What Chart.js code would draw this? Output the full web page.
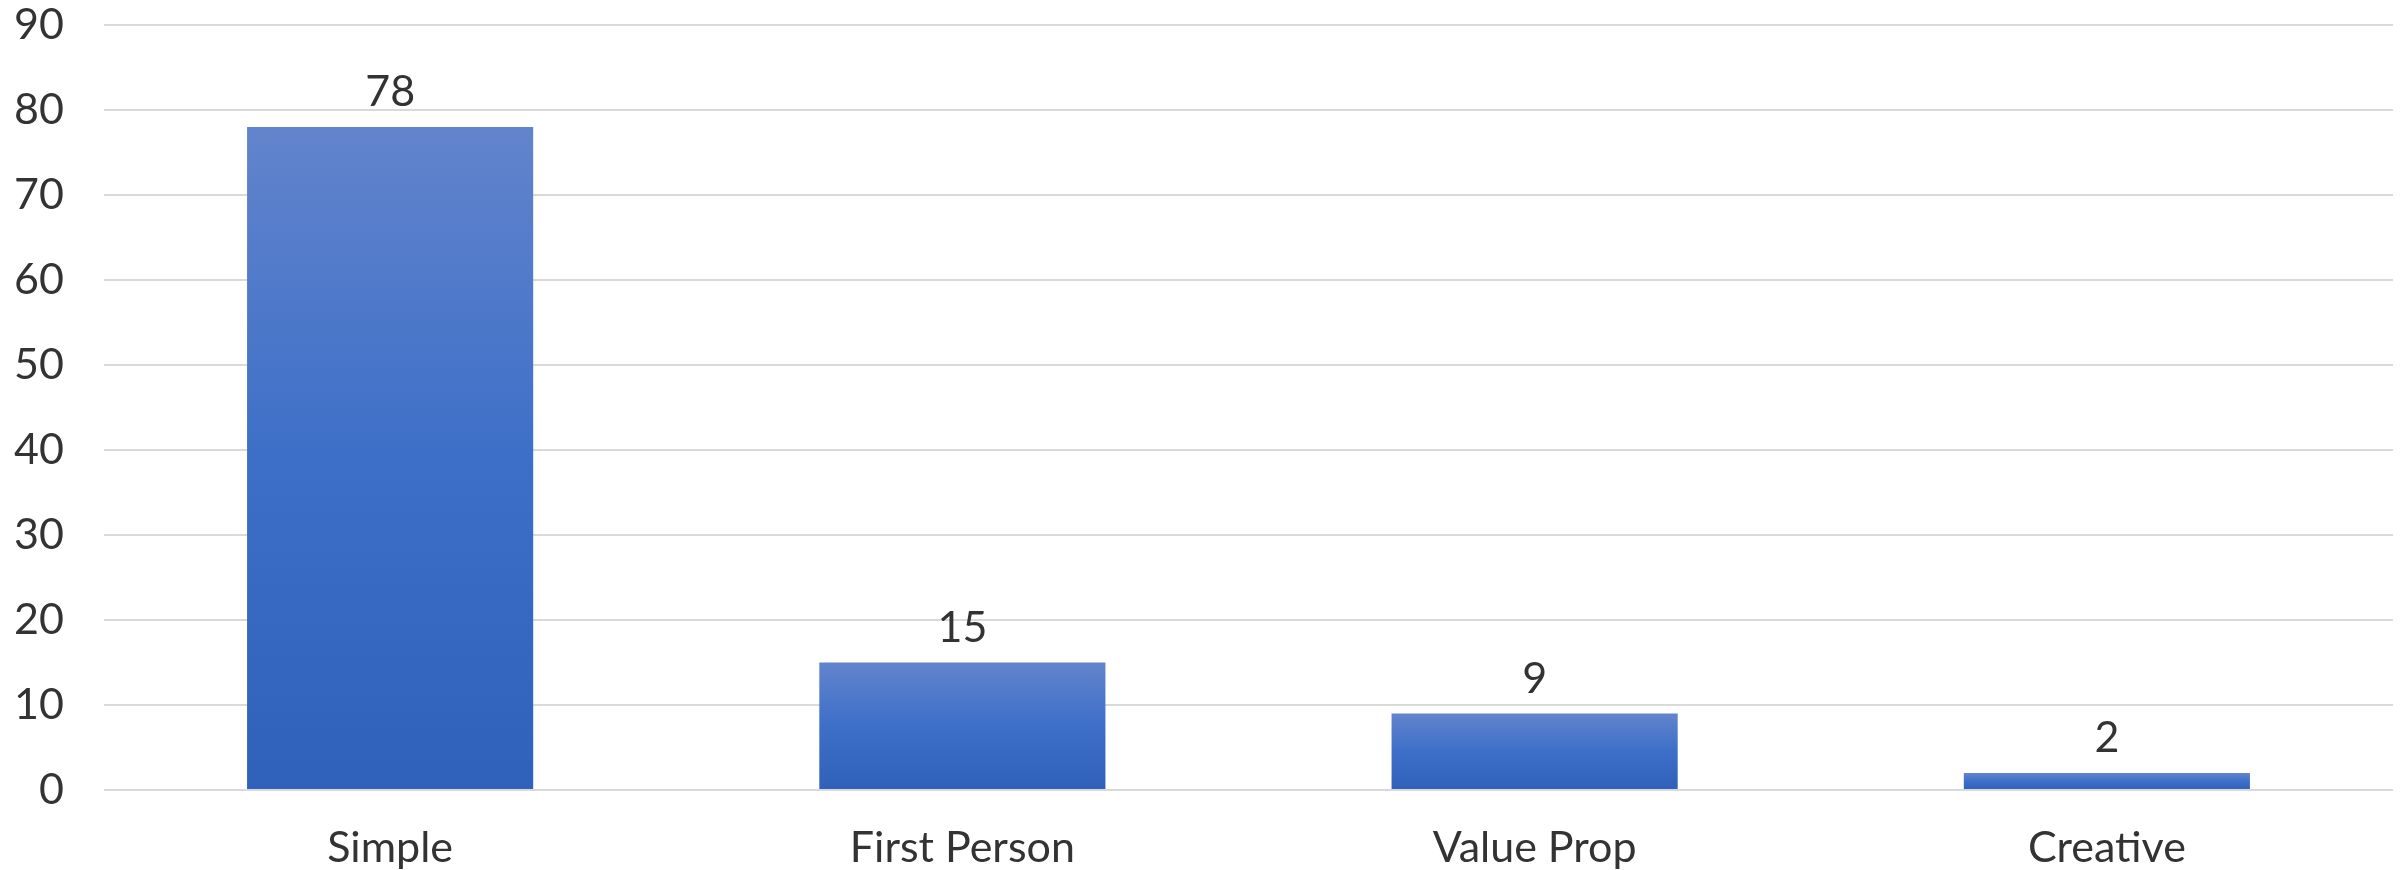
<!DOCTYPE html>
<html>
<head>
<meta charset="utf-8">
<script src="https://cdn.jsdelivr.net/npm/chart.js@4"></script>
<style>
    html, body { margin: 0; padding: 0; background: #ffffff; }
    #wrap { width: 2407px; height: 870px; }
</style>
</head>
<body>
<div id="wrap"><canvas id="grafico"></canvas></div>
<script>
    const categorias = ['Simple', 'First Person', 'Value Prop', 'Creative'];
    const valores = [78, 15, 9, 2];
    const yMin = 0;
    const yMax = 90;
    const yStep = 10;

    const corTexto = '#333333';
    const corGrade = '#d9d9d9';
    const tamanhoFonte = 43;

    // gradiente vertical por barra: claro no topo, escuro na base
    function gradienteBarra(context) {
        const chart = context.chart;
        const { ctx, chartArea, scales } = chart;
        if (!chartArea) {
            return '#3d6fc8';
        }
        const topo = scales.y.getPixelForValue(context.raw);
        const base = scales.y.getPixelForValue(0);
        const g = ctx.createLinearGradient(0, topo, 0, base);
        g.addColorStop(0, '#6284cc');
        g.addColorStop(0.5, '#3d6fc8');
        g.addColorStop(1, '#2f61ba');
        return g;
    }

    // escreve o valor acima de cada barra
    const rotulosValores = {
        id: 'rotulosValores',
        afterDatasetsDraw(chart) {
            const ctx = chart.ctx;
            const meta = chart.getDatasetMeta(0);
            ctx.save();
            ctx.font = tamanhoFonte + 'px Lato';
            ctx.fillStyle = corTexto;
            ctx.textAlign = 'center';
            ctx.textBaseline = 'alphabetic';
            meta.data.forEach((bar, i) => {
                ctx.fillText(String(valores[i]), bar.x, bar.y - 21);
            });
            ctx.restore();
        }
    };

    new Chart(document.getElementById('grafico'), {
        type: 'bar',
        data: {
            labels: categorias,
            datasets: [{
                data: valores,
                backgroundColor: gradienteBarra,
                borderWidth: 0,
                barPercentage: 1,
                categoryPercentage: 0.5,
            }],
        },
        options: {
            responsive: true,
            maintainAspectRatio: false,
            animation: false,
            layout: {
                padding: { top: 0, right: 14, bottom: 0, left: 0 }
            },
            scales: {
                x: {
                    grid: { display: false, drawTicks: false },
                    border: { display: false },
                    ticks: {
                        color: corTexto,
                        font: { family: 'Lato', size: tamanhoFonte },
                        padding: 32,
                    },
                    afterFit(axis) {
                        axis.height = 80;
                    }
                },
                y: {
                    min: yMin,
                    max: yMax,
                    grid: { color: corGrade, lineWidth: 2, drawTicks: false },
                    border: { display: false },
                    ticks: {
                        stepSize: yStep,
                        color: corTexto,
                        font: { family: 'Lato', size: tamanhoFonte },
                        padding: 40,
                    },
                    afterFit(axis) {
                        axis.width = 104;
                        axis.paddingTop = 25;
                        axis.paddingBottom = 0;
                    }
                }
            },
            plugins: {
                legend: { display: false },
                tooltip: { enabled: false }
            }
        },
        plugins: [rotulosValores]
    });
</script>
</body>
</html>
